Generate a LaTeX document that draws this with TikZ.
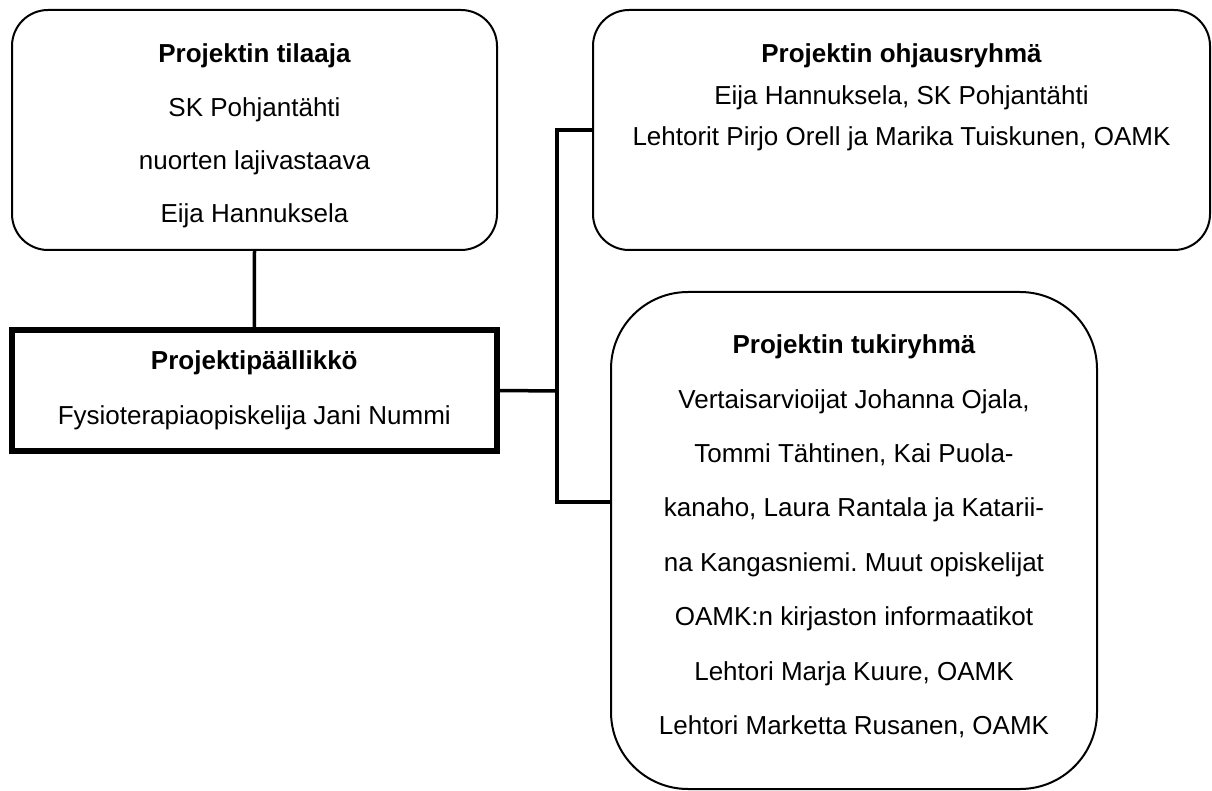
\documentclass[tikz,border=0pt]{standalone}
\usepackage{fontspec}
\setmainfont{Liberation Sans}
\frenchspacing
\tikzset{
	ryhma/.style={draw,line width=2pt,inner sep=0pt,rounded corners=#1},
	ryhma/.default=36pt,
	paallikko/.style={draw,line width=6pt,inner sep=0pt},
	yhteys/.style={line width=3.5pt},
	teksti/.style={align=center,inner sep=0pt,anchor=north,
		font=\fontsize{26}{#1}\selectfont}
}
\begin{document}
\begin{tikzpicture}[x=1pt,y=-1pt]
\useasboundingbox (0,0) rectangle (1212,791);
% laatikot
\node[ryhma,minimum width=485pt,minimum height=240pt] (tilaaja) at (254.5,130) {};
\node[ryhma,minimum width=617pt,minimum height=240pt] (ohjaus) at (901.5,130) {};
\node[paallikko,minimum width=485pt,minimum height=120pt] (pp) at (254.3,390.5) {};
\node[ryhma=77pt,minimum width=486pt,minimum height=497pt] (tuki) at (854,540.5) {};
% tekstit
\node[teksti=53.3] (tilaajat) at (254.5,43.7) {\textbf{Projektin tilaaja}\\SK Pohjantähti\\nuorten lajivastaava\\Eija Hannuksela};
\node[teksti=41.5] (ohjaust) at (901.5,43.7) {\textbf{Projektin ohjausryhmä}\\Eija Hannuksela, SK Pohjantähti\\Lehtorit Pirjo Orell ja Marika Tuiskunen, OAMK};
\node[teksti=55] (ppt) at (254.3,350.7) {\textbf{Projektipäällikkö}\\Fysioterapiaopiskelija Jani Nummi};
\node[teksti=54.4] (tukit) at (854,334.7) {\textbf{Projektin tukiryhmä}\\Vertaisarvioijat Johanna Ojala,\\Tommi Tähtinen, Kai Puola-\\kanaho, Laura Rantala ja Katarii-\\na Kangasniemi. Muut opiskelijat\\OAMK:n kirjaston informaatikot\\Lehtori Marja Kuure, OAMK\\Lehtori Marketta Rusanen, OAMK};
% yhteydet
\coordinate (yla) at (557,130);
\coordinate (keski) at (557,391);
\coordinate (ala) at (557,502);
\draw[yhteys] (tilaaja.south) -- (pp.north);
\draw[yhteys] (pp.east) -- (keski);
\draw[yhteys] (ohjaus.west) -- (yla) -- (ala) -- (ala -| tuki.west);
\end{tikzpicture}
\end{document}
